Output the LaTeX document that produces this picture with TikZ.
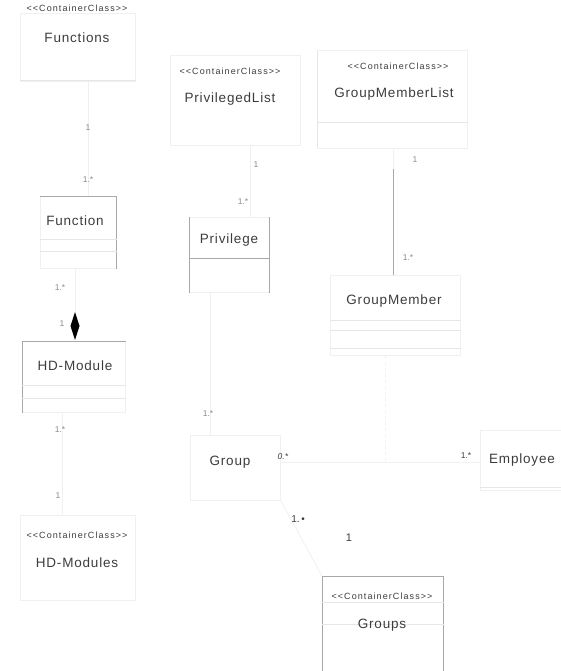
\documentclass[tikz,border=0pt]{standalone}
\usepackage{fontspec}
\setmainfont{Liberation Sans}
\newfontfamily\umlfont[LetterSpace=6]{Liberation Sans}
\newfontfamily\stfont[LetterSpace=12]{Liberation Sans}
\usetikzlibrary{positioning}
\definecolor{ink}{HTML}{3C3C3C}
\definecolor{faint}{HTML}{F0F0F0}
\definecolor{comp}{HTML}{E6E6E6}
\definecolor{edge}{HTML}{A8A8A8}
\definecolor{mult}{HTML}{8A8A8A}
\tikzset{
  cls/.style={draw=faint, line width=0.8pt, inner sep=0pt},
  clsname/.style={font=\umlfont\fontsize{13.5}{15}\selectfont, text=ink, inner sep=0pt},
  stereo/.style={font=\stfont\fontsize{9}{10}\selectfont, text=ink, inner sep=0pt},
  multlbl/.style={font=\fontsize{8.5}{9}\selectfont, text=mult, inner sep=0pt},
  assoc/.style={draw=faint, line width=0.8pt},
  seen/.style={draw=edge, line width=0.7pt},
  complin/.style={draw=comp, line width=0.7pt},
}
\begin{document}
\begin{tikzpicture}[x=1pt,y=-1pt]
\useasboundingbox (0,0) rectangle (561,671);

% ---------- class boxes (faint outlines) ----------
\node[cls, minimum width=115, minimum height=68, anchor=north west] (functions) at (20,13) {};
\node[cls, minimum width=76, minimum height=72, anchor=north west] (function) at (40,196) {};
\node[cls, minimum width=103, minimum height=71, anchor=north west] (hdmodule) at (22,341) {};
\node[cls, minimum width=115, minimum height=85, anchor=north west] (hdmodules) at (20,515) {};
\node[cls, minimum width=130, minimum height=90, anchor=north west] (privlist) at (170,55) {};
\node[cls, minimum width=80, minimum height=75, anchor=north west] (privilege) at (189,217) {};
\node[cls, minimum width=150, minimum height=98, anchor=north west] (gmlist) at (317,50) {};
\node[cls, minimum width=130, minimum height=80, anchor=north west] (gmember) at (330,275) {};
\node[cls, minimum width=90, minimum height=65, anchor=north west] (group) at (190,435) {};
\node[cls, minimum width=81, minimum height=60, anchor=north west] (employee) at (480,430) {};
\node[cls, minimum width=121, minimum height=95, anchor=north west] (groups) at (322,576) {};

% ---------- visible box edges and compartment lines ----------
\draw[seen] (function.north east) -- (function.south east);
\draw[seen] (function.north west) -- (function.north east);
\draw[seen] (hdmodule.north west) -- (hdmodule.south west);
\draw[seen] (hdmodule.north west) -- (hdmodule.north east);
\draw[seen] (privilege.north west) -- (privilege.south west);
\draw[seen] (privilege.north east) -- (privilege.south east);
\draw[seen] ([yshift=-41]privilege.north west) -- ([yshift=-41]privilege.north east);
\draw[seen] (groups.north west) -- (groups.north east);
\draw[seen] (groups.north west) -- (groups.south west);
\draw[seen] (groups.north east) -- (groups.south east);
\draw[complin] ([yshift=-43]function.north west) -- ([yshift=-43]function.north east);
\draw[complin] ([yshift=-55]function.north west) -- ([yshift=-55]function.north east);
\draw[complin] ([yshift=-44]hdmodule.north west) -- ([yshift=-44]hdmodule.north east);
\draw[complin] ([yshift=-57]hdmodule.north west) -- ([yshift=-57]hdmodule.north east);
\draw[complin] ([yshift=-67]functions.north west) -- ([yshift=-67]functions.north east);
\draw[complin] ([yshift=-72]gmlist.north west) -- ([yshift=-72]gmlist.north east);
\draw[complin] ([yshift=-45]gmember.north west) -- ([yshift=-45]gmember.north east);
\draw[complin] ([yshift=-55]gmember.north west) -- ([yshift=-55]gmember.north east);
\draw[complin] ([yshift=-73]gmember.north west) -- ([yshift=-73]gmember.north east);
\draw[complin] ([yshift=-57]employee.north west) -- ([yshift=-57]employee.north east);
\draw[complin] ([yshift=-48]groups.north west) -- ([yshift=-48]groups.north east);
\draw[complin] ([yshift=-26]groups.north west) -- ([yshift=-26]groups.north east);
\draw[complin] (gmlist.north west) -- ([yshift=-97]gmlist.north west);

% ---------- class names and stereotypes ----------
\node[stereo] (st1) at (77,8) {<<ContainerClass>>};
\node[clsname] (n1) at (77,38) {Functions};
\node[clsname] (n2) at (75,221) {Function};
\node[clsname] (n3) at (75,366) {HD-Module};
\node[stereo] (st4) at (77,535) {<<ContainerClass>>};
\node[clsname] (n4) at (77,563) {HD-Modules};
\node[stereo] (st5) at (230,71) {<<ContainerClass>>};
\node[clsname] (n5) at (230,99) {PrivilegedList};
\node[clsname] (n6) at (229,240) {Privilege};
\node[stereo] (st7) at (398,66) {<<ContainerClass>>};
\node[clsname] (n7) at (394,94) {GroupMemberList};
\node[clsname] (n8) at (394,301) {GroupMember};
\node[clsname] (n9) at (230,462) {Group};
\node[clsname] (n10) at (522,460) {Employee};
\node[stereo] (st11) at (382,596) {<<ContainerClass>>};
\node[clsname] (n11) at (382,625) {Groups};

% ---------- associations ----------
\draw[assoc] (functions.south -| 88,0) -- (function.north -| 88,0);
\draw[assoc] (function.south -| 75,0) -- ([yshift=28]hdmodule.north -| 75,0);
\fill[black] (75,312) -- (79.5,326) -- (75,340) -- (70.5,326) -- cycle;
\draw[assoc] (hdmodule.south -| 62,0) -- (hdmodules.north -| 62,0);
\draw[assoc] (privlist.south -| 250,0) -- (privilege.north -| 250,0);
\draw[seen] ([yshift=-20]gmlist.south -| 393,0) -- (gmember.north -| 393,0);
\draw[assoc] (gmlist.south -| 393,0) -- ([yshift=-20]gmlist.south -| 393,0);
\draw[assoc] (privilege.south -| 210,0) -- (group.north -| 210,0);
\draw[assoc] (group.east |- 0,462) -- (employee.west |- 0,462);
\draw[assoc, dashed] (gmember.south -| 385,0) -- (385,462);
\draw[assoc] (group.south east) -- (groups.north west);

% ---------- multiplicities ----------
\node[multlbl] (m1) at (88,128) {1};
\node[multlbl] (m2) at (88,180) {1.*};
\node[multlbl] (m3) at (60,288) {1.*};
\node[multlbl] (m4) at (62,324) {1};
\node[multlbl] (m5) at (60,430) {1.*};
\node[multlbl] (m6) at (58,496) {1};
\node[multlbl] (m7) at (256,165) {1};
\node[multlbl] (m8) at (243,202) {1.*};
\node[multlbl] (m9) at (415,160) {1};
\node[multlbl] (m10) at (408,258) {1.*};
\node[multlbl] (m11) at (208,414) {1.*};
\node[multlbl, text=ink] (m12) at (283,457) {\textit{0.*}};
\node[multlbl, text=ink] (m13) at (466,456) {1.*};
\node[multlbl, text=ink, font=\fontsize{10}{11}\selectfont] (m14) at (298,519) {1.\,\textbullet};
\node[multlbl, text=ink, font=\fontsize{11}{12}\selectfont] (m15) at (349,538) {1};
\end{tikzpicture}
\end{document}
